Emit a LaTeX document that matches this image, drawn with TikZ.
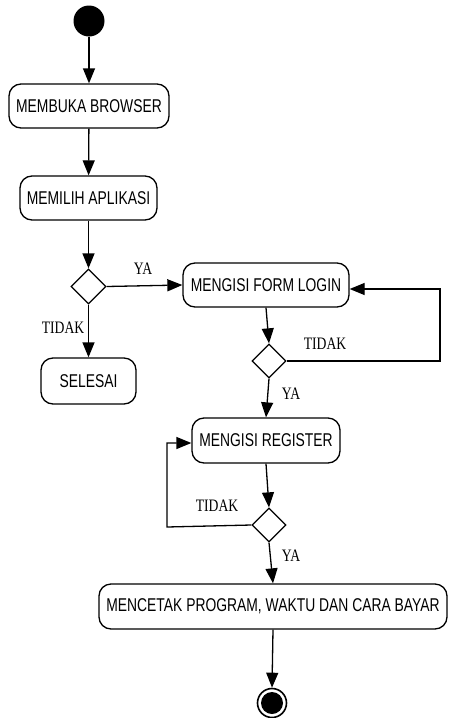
\documentclass[tikz,border=0pt]{standalone}
\usepackage{fontspec}
\usetikzlibrary{arrows.meta,shapes.geometric}
\newfontfamily\boxfont[FakeStretch=0.75]{Liberation Sans}
\newfontfamily\lblfont[FakeStretch=0.78]{Liberation Serif}
\tikzset{
  actbox/.style={draw,line width=1.3pt,rounded corners=12pt,minimum height=44pt,inner sep=0pt,
    font=\boxfont\fontsize{18.5}{20}\selectfont},
  decision/.style={draw,diamond,line width=1.3pt,minimum width=35pt,minimum height=35pt,inner sep=0pt},
  flow/.style={line width=1.3pt,-{Triangle[length=15pt,width=12pt]}},
  plain/.style={line width=1.3pt},
  lbl/.style={font=\lblfont\fontsize{17.5}{19}\selectfont,inner sep=0pt}
}
\begin{document}
\begin{tikzpicture}[x=1pt,y=-1pt]
\useasboundingbox (0,0) rectangle (448,718);
\node[circle,fill=black,minimum size=31pt,inner sep=0pt] (start) at (89,21) {};
\node[actbox,minimum width=160pt] (b1) at (89,106) {MEMBUKA BROWSER};
\node[actbox,minimum width=137pt] (b2) at (88.5,198) {MEMILIH APLIKASI};
\node[decision] (d1) at (88.5,286.5) {};
\node[actbox,minimum width=166pt] (login) at (266,285) {MENGISI FORM LOGIN};
\node[actbox,minimum width=95pt,minimum height=46pt] (sel) at (88.5,381) {SELESAI};
\node[decision,minimum width=34pt,minimum height=34pt] (d2) at (269,361) {};
\node[actbox,minimum width=148pt,minimum height=45pt] (reg) at (266,440.5) {MENGISI REGISTER};
\node[decision,minimum width=34pt,minimum height=34pt] (d3) at (269,525) {};
\node[actbox,minimum width=348pt,minimum height=45pt] (cet) at (273,606.5) {MENCETAK PROGRAM, WAKTU DAN CARA BAYAR};
\node[circle,draw,line width=1.6pt,minimum size=29pt,inner sep=0pt] (end) at (272,703) {};
\fill (end.center) circle (11pt);

\coordinate (r1) at (440,361);
\coordinate (r2) at (440,289);
\coordinate (l1) at (167,527);
\coordinate (l2) at (167,443);

\draw[flow] (start) -- (b1);
\draw[flow] (b1) -- (b2);
\draw[flow] (b2) -- (d1);
\draw[flow] (d1.east) -- (login.west);
\draw[flow] (d1.south) -- (sel.north);
\draw[flow] (login.south) -- (d2.north);
\draw[flow] (d2.east) -- (r1) -- (r2) -- (r2 -| login.east);
\draw[flow] (d2.south) -- (reg.north);
\draw[flow] (reg.south) -- (d3.north);
\draw[flow] (d3.west) -- (l1) -- (l2) -- (l2 -| reg.west);
\draw[flow] (d3.south) -- (cet.north);
\draw[flow] (cet.south) -- (end.north);

\node[lbl] (ya1) at (143,269) {YA};
\node[lbl] (td1) at (63,328) {TIDAK};
\node[lbl] (td2) at (325,344) {TIDAK};
\node[lbl] (ya2) at (291,394) {YA};
\node[lbl] (td3) at (217,506) {TIDAK};
\node[lbl] (ya3) at (291,556) {YA};
\end{tikzpicture}
\end{document}
